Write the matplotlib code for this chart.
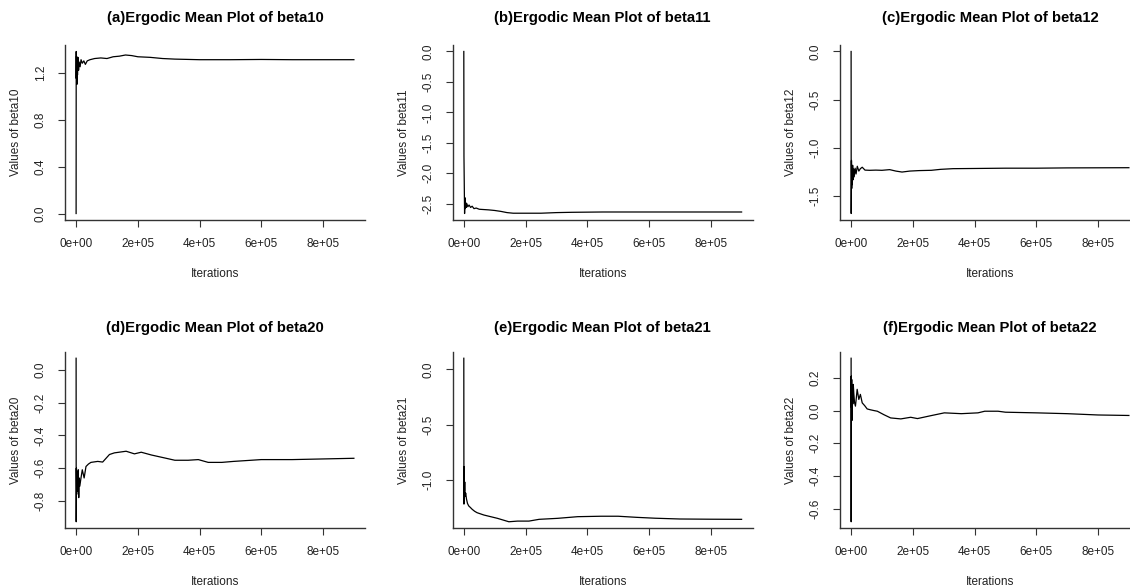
import matplotlib
matplotlib.use("Agg")
import matplotlib.pyplot as plt
from matplotlib.ticker import FixedLocator, FuncFormatter

plt.rcParams['font.family'] = ['Liberation Sans', 'DejaVu Sans']
plt.rcParams['axes.unicode_minus'] = False

# running (ergodic) means of each chain, sampled at selected iterations
iters_a = [1, 300, 800, 1500, 2500, 3500, 4500, 6000, 8000, 10000, 13000, 16000, 20000, 25000,
           30000, 36000, 45000, 60000, 80000, 100000, 120000, 140000, 160000, 180000, 200000,
           240000, 280000, 320000, 400000, 500000, 600000, 700000, 900000]
beta10 = [0.0, 1.38, 1.15, 1.34, 1.10, 1.30, 1.18, 1.33, 1.22, 1.29, 1.25, 1.31, 1.28, 1.30,
          1.27, 1.30, 1.31, 1.32, 1.325, 1.32, 1.335, 1.34, 1.35, 1.345, 1.335,
          1.33, 1.32, 1.315, 1.31, 1.31, 1.312, 1.31, 1.31]

iters_b = [1, 500, 2500, 3500, 4500, 6000, 8000, 10000, 13000, 17000, 22000, 27000, 33000,
           40000, 50000, 65000, 80000, 100000, 120000, 140000, 160000, 200000, 250000, 300000,
           350000, 450000, 600000, 900000]
beta11 = [0.0, -1.72, -2.66, -2.40, -2.58, -2.48, -2.56, -2.50, -2.55, -2.52, -2.56, -2.54, -2.58,
          -2.57, -2.59, -2.595, -2.60, -2.61, -2.625, -2.645, -2.655, -2.655, -2.655, -2.645,
          -2.64, -2.635, -2.635, -2.635]

iters_c = [1, 300, 1200, 2000, 3000, 4000, 5000, 6500, 8000, 10000, 13000, 16000, 20000, 25000,
           30000, 36000, 45000, 60000, 80000, 100000, 125000, 145000, 165000, 190000, 220000,
           260000, 290000, 330000, 400000, 500000, 600000, 700000, 900000]
beta12 = [0.0, -1.68, -1.13, -1.42, -1.20, -1.38, -1.18, -1.33, -1.22, -1.30, -1.21, -1.27, -1.19, -1.24,
          -1.215, -1.20, -1.23, -1.232, -1.23, -1.232, -1.225, -1.24, -1.25, -1.24, -1.235,
          -1.232, -1.222, -1.215, -1.213, -1.21, -1.21, -1.207, -1.205]

iters_d = [1, 300, 1000, 1800, 2600, 3500, 4500, 5500, 7000, 8500, 10000, 12000, 15000, 20000,
           26000, 32000, 40000, 48000, 70000, 86000, 108000, 124000, 162000, 189000, 211000,
           244000, 287000, 320000, 363000, 396000, 428000, 472000, 510000, 600000, 700000,
           800000, 900000]
beta20 = [0.07, -0.927, -0.60, -0.76, -0.62, -0.74, -0.63, -0.70, -0.61, -0.78, -0.66, -0.71, -0.67, -0.61,
          -0.66, -0.59, -0.575, -0.565, -0.559, -0.563, -0.517, -0.507, -0.497, -0.513, -0.503,
          -0.52, -0.538, -0.552, -0.552, -0.548, -0.565, -0.565, -0.559, -0.548, -0.548,
          -0.544, -0.540]

iters_e = [1, 200, 500, 1000, 2000, 3000, 4500, 6000, 8800, 12000, 16000, 21000, 27000, 35000,
           43000, 65000, 87000, 109000, 146000, 174000, 211000, 244000, 304000, 369000, 445000,
           500000, 560000, 620000, 700000, 800000, 900000]
beta21 = [0.10, -0.70, -1.22, -0.88, -1.10, -1.02, -1.15, -1.12, -1.176, -1.215, -1.237, -1.25, -1.267, -1.285,
          -1.298, -1.319, -1.334, -1.349, -1.38, -1.374, -1.374, -1.358, -1.349, -1.334, -1.33,
          -1.33, -1.34, -1.348, -1.355, -1.357, -1.358]

iters_f = [1, 200, 600, 1200, 2000, 3000, 4000, 5500, 7000, 8600, 11000, 14000, 17000, 19600,
           25000, 30000, 36000, 44000, 52000, 62000, 74000, 85000, 106000, 128000, 161000,
           193000, 215000, 259000, 302000, 357000, 411000, 433000, 476000, 500000, 600000,
           700000, 800000, 900000]
beta22 = [0.32, -0.68, 0.21, 0.02, 0.19, -0.06, 0.15, 0.04, 0.16, 0.109, 0.05, 0.027, 0.08, 0.13,
          0.068, 0.099, 0.047, 0.03, 0.01, 0.005, 0.0, -0.004, -0.025, -0.045, -0.051,
          -0.041, -0.049, -0.031, -0.014, -0.019, -0.014, -0.004, -0.004, -0.01, -0.014,
          -0.019, -0.027, -0.03]

x_ticks = [0, 200000, 400000, 600000, 800000]
y_ticks_a = [0.0, 0.4, 0.8, 1.2]
y_ticks_b = [0.0, -0.5, -1.0, -1.5, -2.0, -2.5]
y_ticks_c = [0.0, -0.5, -1.0, -1.5]
y_ticks_d = [0.0, -0.2, -0.4, -0.6, -0.8]
y_ticks_e = [0.0, -0.5, -1.0]
y_ticks_f = [0.2, 0.0, -0.2, -0.4, -0.6]

panels = [
    ("(a)", "beta10", iters_a, beta10, y_ticks_a),
    ("(b)", "beta11", iters_b, beta11, y_ticks_b),
    ("(c)", "beta12", iters_c, beta12, y_ticks_c),
    ("(d)", "beta20", iters_d, beta20, y_ticks_d),
    ("(e)", "beta21", iters_e, beta21, y_ticks_e),
    ("(f)", "beta22", iters_f, beta22, y_ticks_f),
]

W, H = 1130, 587
fig = plt.figure(figsize=(W / 100, H / 100), dpi=100)

lefts = [65, 452.7, 840]
rows = [(45, 220), (351.7, 528.3)]
title_pad = [16.5, 14.5]
txt = '#222222'
axc = '#333333'

for i, (tag, name, it, vals, yt) in enumerate(panels):
    r, c = divmod(i, 3)
    top, bot = rows[r]
    ax = fig.add_axes([lefts[c] / W, 1 - bot / H, 300 / W, (bot - top) / H])
    ax.plot(it, vals, color='black', lw=0.9)
    ax.margins(x=0.04, y=0.04)

    ax.spines['top'].set_visible(False)
    ax.spines['right'].set_visible(False)
    for s in ('left', 'bottom'):
        ax.spines[s].set_color(axc)
        ax.spines[s].set_linewidth(1.0)

    ax.xaxis.set_major_locator(FixedLocator(x_ticks))
    ax.xaxis.set_major_formatter(FuncFormatter(lambda v, p: f"{v:.0e}"))
    ax.yaxis.set_major_locator(FixedLocator(yt))
    ax.yaxis.set_major_formatter(FuncFormatter(lambda v, p: f"{v:.1f}"))
    ax.tick_params(direction='out', length=5, width=0.8, color=axc,
                   labelsize=8.5, labelcolor=txt, pad=8)
    ax.tick_params(axis='y', labelrotation=90)
    for lab in ax.get_yticklabels():
        lab.set_va('center')

    ax.set_title(f"{tag}Ergodic Mean Plot of {name}", fontsize=10.7,
                 fontweight='bold', pad=title_pad[r])
    ax.set_xlabel("Iterations", fontsize=8.5, color=txt, labelpad=13)
    ax.set_ylabel(f"Values of {name}", fontsize=8.5, color=txt, labelpad=9)

fig.savefig('out.png', dpi=100)
